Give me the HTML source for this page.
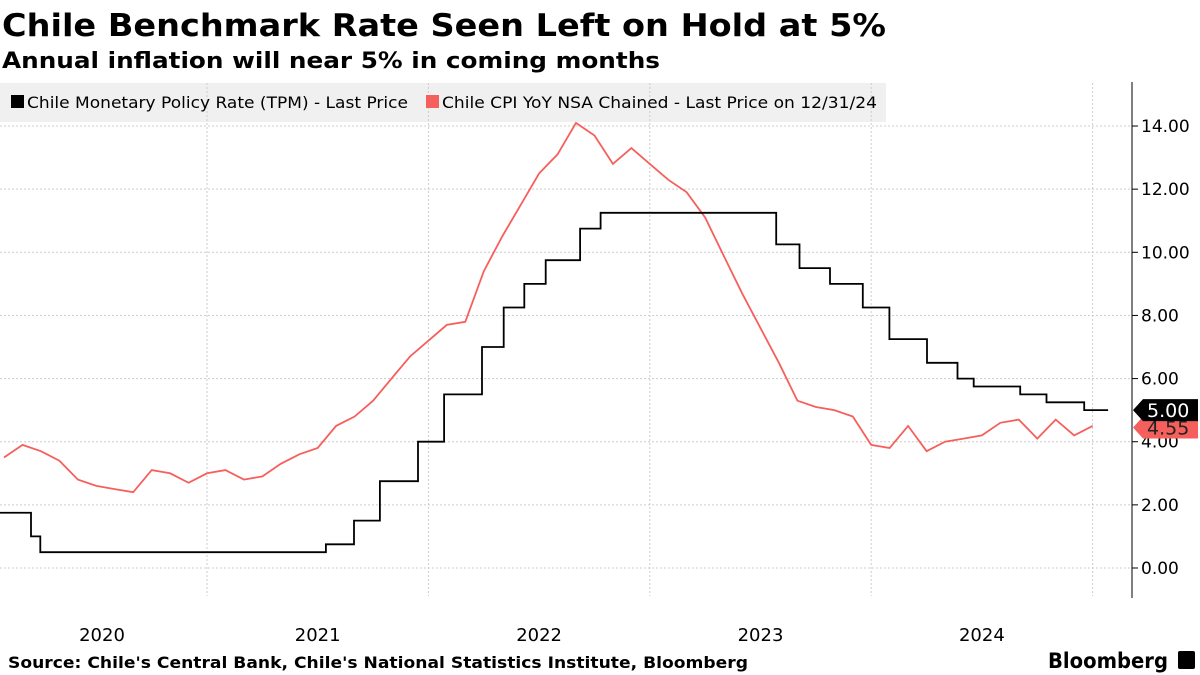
<!DOCTYPE html>
<html><head><meta charset="utf-8"><style>
html,body{margin:0;padding:0;background:#fff;}
svg{display:block;font-family:"DejaVu Sans","Liberation Sans",sans-serif;}
</style></head><body>
<svg id="chart" width="1200" height="675" viewBox="0 0 1200 675">
<text x="2" y="36" font-size="31" font-weight="bold" textLength="884" lengthAdjust="spacingAndGlyphs">Chile Benchmark Rate Seen Left on Hold at 5%</text>
<text x="2" y="68" font-size="22" font-weight="bold" textLength="658" lengthAdjust="spacingAndGlyphs">Annual inflation will near 5% in coming months</text>
<rect x="0" y="83" width="886" height="39" fill="#f0f0f0"/>
<g id="grid"></g>
<g>
<rect x="11" y="95" width="13" height="13" fill="#000"/>
<text x="27" y="108" font-size="16" textLength="381" lengthAdjust="spacingAndGlyphs">Chile Monetary Policy Rate (TPM) - Last Price</text>
<rect x="426" y="95" width="13" height="13" fill="#f5605c"/>
<text x="442" y="108" font-size="16" textLength="435" lengthAdjust="spacingAndGlyphs">Chile CPI YoY NSA Chained - Last Price on 12/31/24</text>
</g>
<line x1="1132" y1="82" x2="1132" y2="598" stroke="#000" stroke-width="1"/>
<g id="yticks"></g>
<g id="xticks"></g>
<g id="series"></g>
<g id="badges"></g>
<text x="8" y="668" font-size="16" font-weight="bold" textLength="740" lengthAdjust="spacingAndGlyphs">Source: Chile's Central Bank, Chile's National Statistics Institute, Bloomberg</text>
<text x="1048" y="668" font-size="21" font-weight="bold" textLength="120" lengthAdjust="spacingAndGlyphs">Bloomberg</text>
<rect x="1178" y="651" width="17" height="18" rx="2" fill="#000"/>
</svg>
<script>
const yTicks=[0,2,4,6,8,10,12,14];
const yearLabels=["2020","2021","2022","2023","2024"];
const yearStarts=[2021,2022,2023,2024,2025];
const cpiValues=[3.5,3.9,3.7,3.4,2.8,2.6,2.5,2.4,3.1,3.0,2.7,3.0,3.1,2.8,2.9,3.3,3.6,3.8,4.5,4.8,5.3,6.0,6.7,7.2,7.7,7.8,9.4,10.5,11.5,12.5,13.1,14.1,13.7,12.8,13.3,12.8,12.3,11.9,11.1,9.9,8.7,7.6,6.5,5.3,5.1,5.0,4.8,3.9,3.8,4.5,3.7,4.0,4.1,4.2,4.6,4.7,4.1,4.7,4.2,4.5];
const tpmDates=[2020.0,2020.205,2020.247,2021.537,2021.664,2021.781,2021.953,2022.071,2022.242,2022.34,2022.433,2022.53,2022.685,2022.778,2023.571,2023.676,2023.814,2023.962,2024.082,2024.252,2024.39,2024.463,2024.673,2024.792,2024.962,2025.07];
const tpmValues=[1.75,1.0,0.5,0.75,1.5,2.75,4.0,5.5,7.0,8.25,9.0,9.75,10.75,11.25,10.25,9.5,9.0,8.25,7.25,6.5,6.0,5.75,5.5,5.25,5.0,5.0];
const NS="http://www.w3.org/2000/svg";
const xs=t=>207+(t-2021)*221.4;
const ys=v=>568-v*31.57;
function mk(tag,attrs,parent){const e=document.createElementNS(NS,tag);for(const k in attrs)e.setAttribute(k,attrs[k]);parent.appendChild(e);return e;}
const grid=document.getElementById('grid'),yt=document.getElementById('yticks'),xt=document.getElementById('xticks'),ser=document.getElementById('series'),bd=document.getElementById('badges');
yTicks.forEach(v=>{
 const l=mk('line',{x1:0,x2:1132,y1:ys(v),y2:ys(v),stroke:'#ccc','stroke-dasharray':'2,2'},grid);
 
 
 const tk=mk('line',{x1:1132,x2:1138,y1:ys(v),y2:ys(v),stroke:'#000'},yt);
 
 
 const t=mk('text',{x:1141,y:ys(v)+6,'font-size':17},yt);
 t.textContent=v.toFixed(2);
 
 
});
yearStarts.forEach(y=>{
 const l=mk('line',{x1:xs(y),x2:xs(y),y1:83,y2:596,stroke:'#ccc','stroke-dasharray':'2,2'},grid);
 
 
});
yearLabels.forEach((s,i)=>{
 const y=+s;
 const cx=i===0?102:xs(y+0.5);
 const t=mk('text',{x:cx,y:641,'font-size':18,'text-anchor':'middle'},xt);
 t.textContent=s;
 
 
});
let d='';cpiValues.forEach((v,i)=>{const t=2020+(i+1)/12;d+=(i?'L':'M')+xs(t).toFixed(1)+','+ys(v).toFixed(1);});
const cp=mk('path',{d:d,fill:'none',stroke:'#f5605c','stroke-width':1.8},ser);


let d2='';
for(let i=0;i<tpmValues.length;i++){
 const x=Math.max(0,xs(tpmDates[i]));
 if(i===0)d2+='M'+x+','+ys(tpmValues[i]);
 else d2+='H'+xs(tpmDates[i]).toFixed(1)+'V'+ys(tpmValues[i]).toFixed(1);
}
const tp=mk('path',{d:d2,fill:'none',stroke:'#000','stroke-width':1.8},ser);


function badge(v,txt,fill,col,name){
 const y=ys(v);
 const p=mk('path',{d:`M1133,${y}L1143,${y-11}H1198V${y+11}H1143Z`,fill:fill},bd);
 
 
 const t=mk('text',{x:1147,y:y+7,'font-size':19,fill:col},bd);
 t.textContent=txt;
 
 
}
badge(cpiValues[cpiValues.length-1]-0.05,'4.55','#f5605c','#222','cpi');
badge(tpmValues[tpmValues.length-1],'5.00','#000','#fff','tpm');
</script>
</body></html>
